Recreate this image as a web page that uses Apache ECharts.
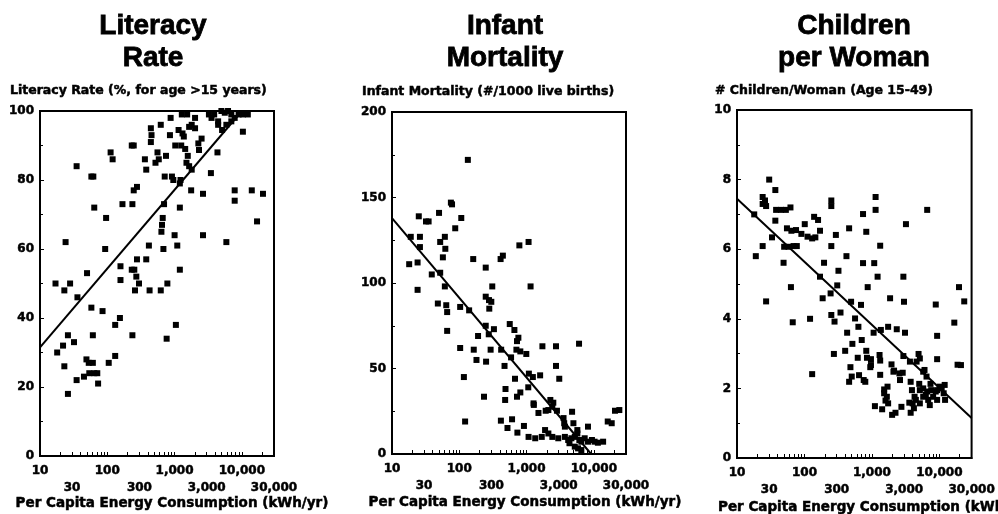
<!DOCTYPE html>
<html>
<head>
<meta charset="utf-8">
<script src="https://cdn.jsdelivr.net/npm/echarts@6/dist/echarts.min.js"></script>
<style>
html,body{margin:0;padding:0;background:#fff;}
#chart{width:998px;height:514px;}
</style>
</head>
<body>
<div id="chart"></div>
<script>
// ---------- Panel titles / axis names ----------
const panelTitles = [["Literacy", "Rate"], ["Infant", "Mortality"], ["Children", "per Woman"]];
const yAxisNames = ["Literacy Rate (%, for age >15 years)", "Infant Mortality (#/1000 live births)", "# Children/Woman (Age 15-49)"];
const xAxisName = "Per Capita Energy Consumption (kWh/yr)";

// ---------- Tick labels ----------
const xLabelsRow1 = [10, 100, 1000, 10000];
const xLabelsRow2 = [30, 300, 3000, 30000];
const xTickMarks = [10, 20, 30, 40, 50, 60, 70, 80, 90, 100, 200, 300, 400, 500, 600, 700, 800, 900,
  1000, 2000, 3000, 4000, 5000, 6000, 7000, 8000, 9000, 10000, 20000, 30000];
const yLit = { min: 0, max: 100, step: 20 };
const yMort = { min: 0, max: 200, step: 50 };
const yKids = { min: 0, max: 10, step: 2 };

// ---------- Literacy panel ----------
const litEnergy = [35, 58, 62, 64, 24, 17, 23, 28, 36, 50, 96, 93, 112, 120, 231, 247, 168, 236, 247, 276,
  157, 157, 231, 252, 270, 296, 276, 379, 258, 425, 623, 415, 682, 781, 362, 379, 444, 454, 444, 520,
  557, 582, 623, 745, 697, 666, 650, 637, 853, 873, 713, 913, 957, 1000, 1096, 1197, 1197, 1225, 1197, 1146,
  1311, 1371, 1023, 1255, 1437, 1570, 1501, 1645, 1796, 1280, 1537, 2014, 1645, 1796, 2014, 2254, 2519, 2307, 1762, 2642,
  2642, 3464, 4335, 5878, 3237, 3540, 3874, 4436, 4963, 5567, 6225, 6966, 4436, 5078, 5878, 6966, 7816, 8940, 10345, 12250,
  10345, 7816, 7816, 14030, 20570, 16790,
  58, 85, 26, 61, 32, 22, 18, 23, 49, 53, 61, 35, 45, 54, 64, 71, 73, 26, 105, 131, 131, 154, 236, 762, 1045];
const litRate = [84, 81, 81, 72, 62, 50, 48, 50, 46, 53, 69, 60, 88, 86, 90, 90, 73, 73, 77, 78,
  55, 51, 54, 54, 52, 50, 57, 57, 48, 48, 48, 61, 60, 50, 86, 83, 95, 93, 91, 85,
  88, 86, 96, 87, 73, 69, 67, 65, 93, 98, 81, 81, 80, 64, 61, 54, 72, 80, 79, 94.5,
  93.5, 92.6, 90, 90, 89, 87, 85, 84, 83, 99, 99, 98, 95.4, 96, 95, 90.6, 92, 88.7, 77, 76,
  64, 82, 88, 62, 99, 98, 99, 97, 100, 99.5, 100, 99, 96, 94.5, 96, 97, 98, 99, 99, 99,
  94, 77, 74, 77, 76, 68,
  43, 42, 35, 35, 33, 32, 30, 26, 28, 27, 27, 22, 23, 24, 24, 24, 21, 18, 27, 29, 38, 40, 35, 34, 38];
const litFitX = [10, 10000];
const litFitY = [31.5, 100];

// ---------- Infant mortality panel ----------
const mortEnergy = [134, 75, 78, 50, 25, 32, 35, 107, 87, 19, 26, 61, 52, 62, 26, 18, 24, 57, 39, 52,
  61, 24, 161, 247, 411, 444, 781, 1070, 309, 1146, 247, 276, 299, 279, 48, 64, 66, 103, 140, 66,
  247, 327, 274, 562, 659, 755, 720, 190, 103, 164, 292, 419, 180, 250, 706, 807, 990, 588, 1718, 2734,
  6016, 470, 2734, 117, 1081, 1239, 1589, 672, 3058, 486, 1059, 720, 807, 233, 480, 1268, 2494, 1280, 2254, 2411,
  2826, 1501, 1922, 2107, 122, 415, 608, 520, 730, 913, 3540, 4742, 3707, 1070, 1343, 1680, 1882, 2107, 2411, 2956,
  3707, 4150, 4636, 5200, 5679, 6080, 6506, 7296, 8166, 9354, 10240, 11460, 13710, 5200, 5816, 6506, 4335, 3622, 4963, 5679,
  8166, 16060, 18400, 20570, 23880];
const mortRate = [172, 147, 146, 141, 139, 136, 136, 138, 132, 127, 127, 127, 124, 120, 121, 111, 112, 115, 105, 106,
  98, 96, 114, 109, 114, 116, 122, 124, 98, 98, 92, 90, 89, 85, 88, 87, 83, 86, 84, 72,
  75, 73, 70, 76, 72.5, 68, 66, 69, 62, 61, 61, 61, 55, 54, 61, 60, 58.5, 56.5, 63, 63,
  64.5, 51.5, 51.5, 45, 47, 45, 46, 44, 44, 38, 39, 33.5, 36, 33.5, 31.6, 29.6, 30, 28.7, 31.6, 27.7,
  25.3, 24, 25.3, 25.7, 19, 19.5, 20.3, 15.2, 12.5, 16.4, 21, 24.7, 16, 10, 9.2, 10, 14, 12, 10, 9.2,
  10, 8.2, 9.2, 10, 12, 8.2, 7.2, 9.2, 7.2, 8.2, 7.2, 6.6, 7.2, 4.3, 3.3, 2.3, 6.3, 18, 18, 14,
  16, 19, 18, 25.3, 25.7];
const mortFitX = [10, 9100];
const mortFitY = [138, 0];

// ---------- Children per woman panel ----------
const kidsEnergy = [30, 37, 24, 26, 24, 27, 18, 38, 45, 53, 62, 37, 33, 24, 19, 55, 64, 75, 101, 139,
  159, 90, 111, 130, 145, 170, 50, 58, 69, 77, 49, 63, 195, 170, 250, 250, 292, 250, 459, 419,
  319, 306, 738, 824, 1133, 1133, 1325, 738, 1081, 1213, 865, 3193, 2924, 6590, 19500, 27, 186, 244, 491, 689,
  1858, 2985, 8830, 23330, 67, 121, 250, 279, 342, 562, 630, 1059, 1356, 1738, 2333, 3090, 16630, 9250, 429, 706,
  513, 401, 273, 824, 616, 844, 1297, 1325, 967, 945, 2924, 4909, 4592, 1950, 480, 502, 459, 644, 755, 1325,
  2084, 2553, 2606, 130, 3750, 5024, 6016, 6440, 7380, 10090, 11970, 18590, 1702, 967, 2128, 2858, 3656, 5130, 5754, 797,
  1517, 1517, 1663, 1589, 1738, 1107, 1417, 1991, 2233, 2734, 3917, 4285, 4478, 5130, 5754, 6590, 7550, 8075, 9250, 4009,
  4188, 5130, 5754, 6822, 7200, 6290, 3750, 3581, 9250, 10810, 11570, 12130, 8830, 20860, 9250];
const kidsRate = [8.0, 7.7, 7.5, 7.4, 7.3, 7.24, 7.0, 7.13, 7.13, 7.13, 7.2, 6.82, 6.34, 6.09, 5.8, 6.6, 6.53, 6.55, 6.72, 6.93,
  6.84, 6.44, 6.36, 6.31, 6.34, 6.53, 6.07, 6.07, 6.09, 6.09, 5.61, 4.91, 5.61, 5.21, 7.4, 7.24, 6.41, 6.09, 6.6, 5.8,
  5.38, 4.96, 7.01, 6.5, 7.5, 7.13, 6.1, 5.6, 5.6, 5.21, 4.91, 6.72, 5.21, 7.13, 4.91, 4.5, 4.59, 4.73, 4.49, 4.4,
  4.59, 4.49, 4.41, 4.5, 3.9, 4.0, 4.11, 3.92, 4.18, 4.01, 3.77, 3.6, 3.68, 3.77, 3.7, 3.6, 3.89, 3.51, 3.6, 3.39,
  3.28, 3.08, 2.99, 3.08, 2.88, 2.88, 2.96, 2.8, 2.67, 2.61, 2.93, 2.99, 2.77, 2.69, 2.61, 2.34, 2.19, 2.38, 2.24, 2.39,
  2.48, 2.43, 2.24, 2.41, 2.19, 2.13, 2.53, 2.34, 2.13, 2.05, 2.1, 2.68, 2.05, 2.84, 2.51, 2.45, 2.77, 2.86, 2.48, 2.19,
  1.97, 1.86, 1.76, 1.65, 1.57, 1.49, 1.4, 1.24, 1.3, 1.47, 1.95, 1.76, 1.67, 1.95, 2.0, 1.91, 1.95, 1.76, 1.95, 1.57,
  1.43, 1.57, 1.76, 1.67, 1.52, 1.81, 1.3, 1.59, 1.67, 2.0, 1.86, 1.67, 1.91, 2.67, 2.84];
const kidsFitX = [10, 30000];
const kidsFitY = [7.45, 1.15];

// ---------- Build chart ----------
const zip = (xs, ys) => xs.map((x, i) => [x, ys[i]]);
const grids = [
  { left: 40, top: 111, width: 234, height: 345 },
  { left: 392, top: 112, width: 234, height: 342 },
  { left: 737, top: 110, width: 236, height: 348 }
];
const labelFont = { fontFamily: 'DejaVu Sans', fontWeight: 'bold', fontSize: 12, color: '#000',
  textBorderColor: '#000', textBorderWidth: 0.5 };
const fmt = v => Number(v).toLocaleString('en-US');

const xAxes = [], yAxes = [];
const yRanges = [yLit, yMort, yKids];
grids.forEach((g, i) => {
  xAxes.push({
    type: 'log', logBase: 10, gridIndex: i, min: 10, max: 30000, position: 'bottom',
    axisLine: { show: true, lineStyle: { color: '#000', width: 2 } },
    axisTick: { show: true, inside: true, length: 4, customValues: xTickMarks, lineStyle: { color: '#000', width: 1 } },
    axisLabel: Object.assign({ customValues: xLabelsRow1, formatter: fmt, margin: 9 }, labelFont),
    splitLine: { show: false }
  });
  xAxes.push({
    type: 'log', logBase: 10, gridIndex: i, min: 10, max: 30000, position: 'bottom', offset: 17,
    axisLine: { show: false }, axisTick: { show: false },
    axisLabel: Object.assign({ customValues: xLabelsRow2, formatter: fmt, margin: 9 }, labelFont),
    splitLine: { show: false }
  });
  const r = yRanges[i];
  yAxes.push({
    type: 'value', gridIndex: i, min: r.min, max: r.max, interval: r.step,
    axisLine: { show: true, lineStyle: { color: '#000', width: 2 } },
    axisTick: { show: true, inside: true, length: 4, lineStyle: { color: '#000' } },
    minorTick: { show: true, splitNumber: 2, length: 3, lineStyle: { color: '#000' } },
    axisLabel: Object.assign({ margin: 6 }, labelFont),
    splitLine: { show: false }
  });
});

const scatterBase = { type: 'scatter', symbol: 'rect', symbolSize: 6, itemStyle: { color: '#000', opacity: 1 }, z: 3 };
const lineBase = { type: 'line', symbol: 'none', lineStyle: { color: '#000', width: 2 }, z: 4, clip: true };
const series = [
  Object.assign({ xAxisIndex: 0, yAxisIndex: 0, data: zip(litEnergy, litRate) }, scatterBase),
  Object.assign({ xAxisIndex: 0, yAxisIndex: 0, data: zip(litFitX, litFitY) }, lineBase),
  Object.assign({ xAxisIndex: 2, yAxisIndex: 1, data: zip(mortEnergy, mortRate) }, scatterBase),
  Object.assign({ xAxisIndex: 2, yAxisIndex: 1, data: zip(mortFitX, mortFitY) }, lineBase),
  Object.assign({ xAxisIndex: 4, yAxisIndex: 2, data: zip(kidsEnergy, kidsRate) }, scatterBase),
  Object.assign({ xAxisIndex: 4, yAxisIndex: 2, data: zip(kidsFitX, kidsFitY) }, lineBase)
];

const titleCenters = [153, 505, 854];
const subLeft = [10, 362, 715];
const subY = [91, 92, 91];
const nameX = [[172, 'center'], [525, 'center'], [718, 'left']];
const nameY = [503, 502, 507];
const graphics = [];
panelTitles.forEach((lines, i) => {
  lines.forEach((t, j) => {
    graphics.push({ type: 'text', x: titleCenters[i], y: 26 + j * 32,
      style: { text: t, fill: '#000', stroke: '#000', lineWidth: 0.8,
        font: 'bold 28px "Liberation Sans", Arial, sans-serif', textAlign: 'center', textVerticalAlign: 'middle' } });
  });
  graphics.push({ type: 'text', x: subLeft[i], y: subY[i],
    style: { text: yAxisNames[i], fill: '#000', stroke: '#000', lineWidth: 0.5,
      font: 'bold 12.5px "DejaVu Sans", sans-serif', textAlign: 'left', textVerticalAlign: 'middle' } });
  graphics.push({ type: 'text', x: nameX[i][0], y: nameY[i],
    style: { text: xAxisName, fill: '#000', stroke: '#000', lineWidth: 0.5,
      font: 'bold 13.5px "DejaVu Sans", sans-serif', textAlign: nameX[i][1], textVerticalAlign: 'middle' } });
});

const chart = echarts.init(document.getElementById('chart'), null, { renderer: 'canvas' });
chart.setOption({
  animation: false,
  backgroundColor: '#fff',
  grid: grids.map(g => Object.assign({ show: true, borderColor: '#000', borderWidth: 2, backgroundColor: 'transparent', containLabel: false }, g)),
  xAxis: xAxes,
  yAxis: yAxes,
  series: series,
  graphic: graphics
});
</script>
</body>
</html>
